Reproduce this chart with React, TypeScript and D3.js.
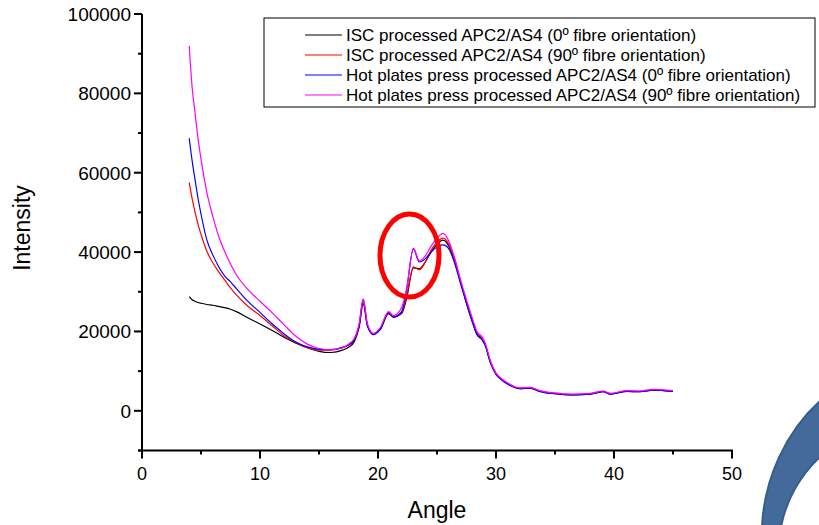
import React from "react";
import * as d3 from "d3";

const angles = [4, 4.25, 4.5, 4.75, 5, 5.5, 6, 6.5, 7, 7.5, 8, 9, 10, 11, 12, 13, 14, 15, 16, 17, 17.5, 18, 18.4, 18.75, 19.1, 19.6, 20.2, 20.9, 21.3, 22.0, 22.4, 23.0, 23.5, 24.0, 24.5, 25.0, 25.5, 26.0, 26.5, 27.0, 27.5, 28.0, 28.4, 28.8, 29.1, 29.5, 30.0, 30.5, 31, 32, 32.9, 33.7, 35, 36.5, 38, 39.1, 39.7, 41.1, 42.2, 43.3, 45];

const iscZero = [28800, 28000, 27600, 27300, 27100, 26800, 26600, 26300, 26000, 25600, 25000, 23400, 21900, 20300, 18600, 17100, 15900, 15000, 14700, 15300, 16000, 17500, 21000, 27000, 21500, 19400, 20500, 24500, 23600, 24500, 28000, 36000, 35800, 37500, 40000, 42000, 43000, 41500, 37500, 32500, 27000, 22300, 19100, 18000, 16500, 12500, 9300, 7800, 6800, 5600, 5700, 4900, 4300, 4000, 4200, 4800, 4200, 4900, 4800, 5200, 4900];

const iscNinety = [57500, 53500, 50000, 47000, 44500, 40200, 37300, 35000, 33000, 31000, 29200, 26300, 24000, 21500, 19000, 17300, 15900, 15300, 15300, 15900, 16600, 18000, 21500, 27800, 21500, 19400, 20800, 24800, 23800, 24800, 28500, 36300, 35600, 37400, 40500, 42500, 43500, 42000, 38000, 32500, 27500, 22800, 19500, 18400, 16600, 12600, 9400, 7900, 6900, 5700, 5800, 5000, 4400, 4100, 4300, 4900, 4300, 5000, 4900, 5300, 5000];

const hppZero = [68700, 63000, 58200, 53500, 49600, 43000, 39300, 36300, 34000, 32500, 30800, 27500, 24800, 22000, 19500, 17400, 16100, 15500, 15400, 16000, 16600, 18000, 21500, 28000, 21500, 19200, 20600, 24800, 23600, 25000, 30000, 40800, 37500, 38300, 40000, 41300, 41800, 40800, 37200, 32000, 27200, 22500, 19300, 18000, 16300, 12300, 9200, 7700, 6700, 5600, 5700, 4900, 4300, 4000, 4200, 4800, 4200, 4900, 4800, 5200, 4900];

const hppNinety = [92000, 81500, 75000, 68600, 63500, 55000, 49000, 44000, 40200, 37000, 34300, 30500, 27600, 24800, 21800, 18900, 16800, 15700, 15400, 15900, 16800, 18300, 22000, 28200, 22000, 19500, 21000, 25000, 24000, 26000, 30400, 41000, 37800, 39000, 41500, 43500, 44700, 42800, 38500, 33000, 28000, 23300, 19900, 18800, 17000, 12800, 9500, 8000, 7000, 5800, 5900, 5100, 4500, 4200, 4400, 5000, 4400, 5100, 5000, 5400, 5100];

const seriesNames = [
  "ISC processed APC2/AS4 (0º fibre orientation)",
  "ISC processed APC2/AS4 (90º fibre orientation)",
  "Hot plates press processed APC2/AS4 (0º fibre orientation)",
  "Hot plates press processed APC2/AS4 (90º fibre orientation)",
];
const seriesColors = ["#000000", "#ff0000", "#0000ff", "#ff00ff"];
const seriesValues = [iscZero, iscNinety, hppZero, hppNinety];

const xMajorTicks = [0, 10, 20, 30, 40, 50];
const xMinorTicks = [5, 15, 25, 35, 45];
const yMajorTicks = [0, 20000, 40000, 60000, 80000, 100000];
const yMinorTicks = [-10000, 10000, 30000, 50000, 70000, 90000];

const FONT = "'Liberation Sans', Arial, sans-serif";

export default function App() {
  const W = 819, H = 525;
  const x = d3.scaleLinear().domain([0, 50]).range([142, 732]);
  const y = d3.scaleLinear().domain([-10000, 100000]).range([450.5, 14]);
  const line = d3
    .line<[number, number]>()
    .x((d) => x(d[0]))
    .y((d) => y(d[1]))
    .curve(d3.curveMonotoneX);

  const axisY = y(-10000);
  const axisX = x(0);

  const legendX = 264, legendY = 18, legendW = 551, legendH = 89;
  const rowY = [35, 55, 75, 95];

  return (
    <svg width={W} height={H} style={{ position: "absolute", left: 0, top: 0, background: "#fff" }} fontFamily={FONT}>
      <rect x={0} y={0} width={W} height={H} fill="#fff" />
      {/* decorative blue arc */}
      <path
        d="M762,527 C764,480 785,432 821,400 L821,456 C801,474 786,500 781,527 Z"
        fill="#44699b"
        stroke="#385d8a"
        strokeWidth={2}
      />
      {/* series */}
      {seriesValues.map((vals, i) => (
        <path
          key={i}
          d={line(angles.map((a, j) => [a, vals[j]]) as [number, number][]) || ""}
          fill="none"
          stroke={seriesColors[i]}
          strokeWidth={1.2}
        />
      ))}
      {/* red ellipse highlight */}
      <ellipse cx={409.5} cy={255.5} rx={29.5} ry={41.5} fill="none" stroke="#ff0000" strokeWidth={5} />
      {/* axes */}
      <line x1={axisX} x2={axisX} y1={y(100000)} y2={axisY + 1} stroke="#000" strokeWidth={2} />
      <line x1={axisX - 4} x2={x(50) + 1} y1={axisY} y2={axisY} stroke="#000" strokeWidth={2} />
      {xMajorTicks.map((t) => (
        <g key={"xm" + t}>
          <line x1={x(t)} x2={x(t)} y1={axisY} y2={axisY + 8} stroke="#000" strokeWidth={2} />
          <text x={x(t)} y={480} textAnchor="middle" fontSize={18} fill="#000">{t}</text>
        </g>
      ))}
      {xMinorTicks.map((t) => (
        <line key={"xn" + t} x1={x(t)} x2={x(t)} y1={axisY} y2={axisY + 4} stroke="#000" strokeWidth={2} />
      ))}
      {yMajorTicks.map((t) => (
        <g key={"ym" + t}>
          <line x1={axisX - 8} x2={axisX} y1={y(t)} y2={y(t)} stroke="#000" strokeWidth={2} />
          <text x={131} y={y(t) + 7} textAnchor="end" fontSize={19} fill="#000">{t}</text>
        </g>
      ))}
      {yMinorTicks.map((t) => (
        <line key={"yn" + t} x1={axisX - 4} x2={axisX} y1={y(t)} y2={y(t)} stroke="#000" strokeWidth={2} />
      ))}
      <text x={437} y={518} textAnchor="middle" fontSize={23} fill="#000">Angle</text>
      <text transform="translate(30,228) rotate(-90)" textAnchor="middle" fontSize={23} fill="#000">Intensity</text>
      {/* legend */}
      <rect x={legendX} y={legendY} width={legendW} height={legendH} fill="#fff" stroke="#000" strokeWidth={1} />
      {seriesNames.map((n, i) => (
        <g key={"lg" + i}>
          <line x1={305} x2={342} y1={rowY[i]} y2={rowY[i]} stroke={seriesColors[i]} strokeWidth={1.2} />
          <text x={346} y={rowY[i] + 5.5} fontSize={17} fill="#000">{n}</text>
        </g>
      ))}
    </svg>
  );
}
